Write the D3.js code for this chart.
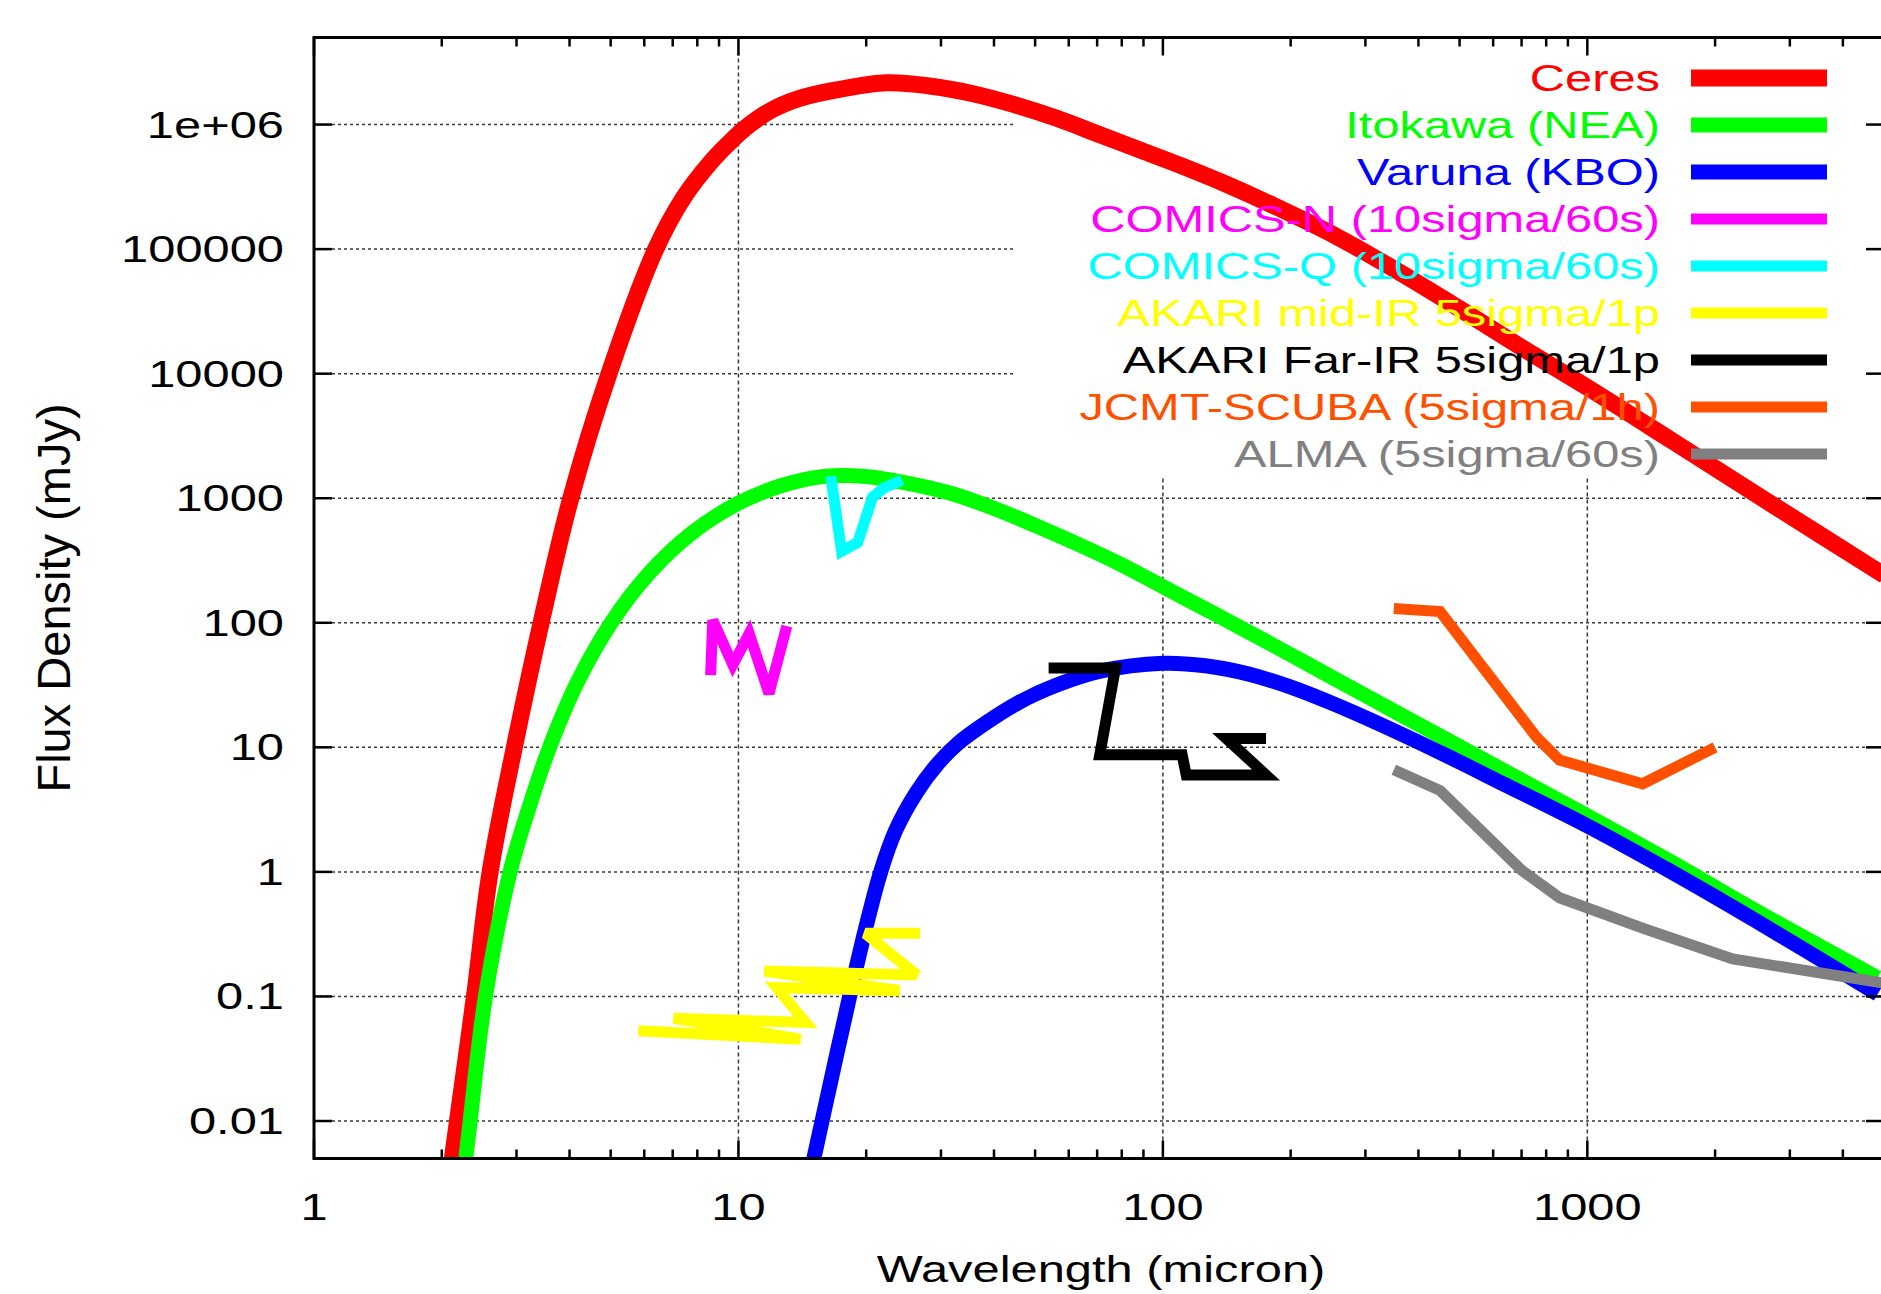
<!DOCTYPE html>
<html>
<head>
<meta charset="utf-8">
<script src="https://cdn.jsdelivr.net/npm/d3@7/dist/d3.min.js"></script>
<style>
  body { margin: 0; background: #fff; }
  text { font-family: "Liberation Sans", Arial, Helvetica, sans-serif; }
</style>
</head>
<body>
<div id="chart"></div>
<script>
// wavelength (micron), flux density (mJy)
const ceres = [
  [2.08, 0.00316], [2.178, 0.01], [2.388, 0.1], [2.60, 1], [2.965, 10], [3.428, 100],
  [4.027, 1000], [4.955, 1e4], [6.383, 1e5], [7.413, 2.57e5], [8.61, 5.01e5],
  [9.55, 7.24e5], [10.54, 9.77e5], [12.02, 1.318e6], [13.93, 1.622e6], [17.14, 1.905e6],
  [22.39, 2.163e6], [28.18, 2.042e6], [35.48, 1.778e6], [44.67, 1.445e6], [56.23, 1.122e6],
  [70.79, 8.32e5], [89.13, 6.17e5], [112.2, 4.57e5], [141.3, 3.31e5], [182.0, 2.24e5],
  [257.0, 1.259e5], [354.8, 6.76e4], [501.2, 3.31e4], [707.9, 1.585e4], [1000, 7762],
  [1585, 2884], [2754, 871], [5012, 240]
];
const itokawa = [
  [2.244, 0.00316], [2.333, 0.01], [2.535, 0.1], [2.897, 1], [3.199, 3.162], [3.589, 10],
  [4.169, 33.1], [5.012, 100], [6.166, 251], [7.762, 525], [10.0, 912], [12.59, 1259],
  [15.85, 1496], [19.95, 1496], [25.12, 1318], [31.62, 1096], [41.3, 794], [50.12, 603],
  [63.1, 427], [79.43, 295], [100, 195], [125.9, 129], [158.5, 85.1], [199.5, 55.6],
  [254.1, 35.5], [344.4, 20.2], [467.7, 11.48], [631.0, 6.61], [1000, 2.82],
  [1578, 1.2], [2489, 0.49], [4831, 0.141]
];
const varuna = [
  [14.62, 0.00316], [15.74, 0.01], [18.28, 0.1], [19.95, 0.355], [21.63, 1], [23.44, 2.14],
  [26.3, 4.37], [29.51, 7.41], [33.11, 10.96], [38.02, 15.49], [45.71, 22.9], [56.23, 31.6],
  [70.79, 40.7], [100, 47.32], [125.9, 45.19], [158.5, 38.9], [199.5, 30.55], [254.1, 22.1],
  [344.4, 13.96], [467.7, 8.51], [631.0, 5.13], [1000, 2.344], [1578, 1.0], [2489, 0.407],
  [4831, 0.1047]
];
const comicsN = [[8.6, 38], [8.7, 105], [9.7, 46], [10.6, 82], [11.8, 27], [13.0, 94]];
const comicsQ = [[16.5, 1500], [17.5, 375], [19.1, 442], [20.7, 1020], [22.0, 1210], [24.3, 1400]];
const akariMid = [
  [5.81, 0.053], [14.0, 0.0454], [7.03, 0.0668], [14.4, 0.0618], [12.3, 0.118],
  [24.0, 0.111], [11.5, 0.16], [26.3, 0.149], [19.9, 0.321], [26.8, 0.321]
];
const akariFar = [
  [53.8, 43.4], [77.3, 43.4], [71, 8.7], [111, 8.7], [113.5, 6.0], [175, 6.0],
  [141, 11.8], [175, 11.8]
];
const jcmtScuba = [[350, 130], [450, 123], [760, 12], [860, 7.9], [1350, 5.1], [2000, 10]];
const alma = [[350, 6.6], [450, 4.5], [700, 1.03], [860, 0.62], [1360, 0.35], [2200, 0.2], [5000, 0.128]];

const seriesData = [ceres, itokawa, varuna, comicsN, comicsQ, akariMid, akariFar, jcmtScuba, alma];
const seriesNames = [
  "Ceres", "Itokawa (NEA)", "Varuna (KBO)", "COMICS-N (10sigma/60s)",
  "COMICS-Q (10sigma/60s)", "AKARI mid-IR 5sigma/1p", "AKARI Far-IR 5sigma/1p",
  "JCMT-SCUBA (5sigma/1h)", "ALMA (5sigma/60s)"
];
const seriesColors = ["#ff0000", "#00ff00", "#0000ff", "#ff00ff", "#00ffff", "#ffff00", "#000000", "#ff5000", "#808080"];
const smoothSeries = [true, true, true, false, false, false, false, false, false];

const xTicks = [1, 10, 100, 1000];
const xTickLabels = ["1", "10", "100", "1000"];
const yTicks = [0.01, 0.1, 1, 10, 100, 1000, 10000, 100000, 1000000];
const yTickLabels = ["0.01", "0.1", "1", "10", "100", "1000", "10000", "100000", "1e+06"];

const width = 1881
, height = 1294
, plotLeft = 314
, plotRight = 1884
, plotTop = 37.5
, plotBottom = 1158.5
, fontSize = 37
, textStretch = 1.32
, majorTick = 18
, minorTick = 9;

const x = d3.scaleLog().domain([1, 5000]).range([plotLeft, plotRight]);
const y = d3.scaleLog().domain([0.005, 5e6]).range([plotBottom, plotTop]);

const svg = d3.select("#chart")
  .append("svg")
  .attr("width", width)
  .attr("height", height)
  .style("display", "block");

svg.append("rect")
  .attr("width", width)
  .attr("height", height)
  .style("fill", "#fff");

svg.append("clipPath")
  .attr("id", "plotClip")
  .append("rect")
  .attr("x", plotLeft)
  .attr("y", plotTop)
  .attr("width", plotRight - plotLeft)
  .attr("height", plotBottom - plotTop);

function addText(g, px, py, str, anchor, color) {
  return g.append("text")
    .attr("transform", `translate(${px},${py}) scale(${textStretch},1)`)
    .attr("text-anchor", anchor)
    .style("font-size", fontSize + "px")
    .style("fill", color)
    .text(str);
}

// grid
const grid = svg.append("g");
grid.selectAll(".hgrid")
  .data(yTicks)
  .enter().append("line")
  .attr("x1", plotLeft)
  .attr("x2", plotRight)
  .attr("y1", d => y(d))
  .attr("y2", d => y(d))
  .style("stroke", "#3a3a3a")
  .style("stroke-width", 1.5)
  .style("stroke-dasharray", "3,3");
grid.selectAll(".vgrid")
  .data(xTicks.slice(1))
  .enter().append("line")
  .attr("x1", d => x(d))
  .attr("x2", d => x(d))
  .attr("y1", plotTop)
  .attr("y2", plotBottom)
  .style("stroke", "#3a3a3a")
  .style("stroke-width", 1.5)
  .style("stroke-dasharray", "4,3");

// opaque key area
const legendLeft = 1013, legendBottom = 478;
svg.append("rect")
  .attr("x", legendLeft)
  .attr("y", plotTop)
  .attr("width", plotRight - legendLeft)
  .attr("height", legendBottom - plotTop)
  .style("fill", "#fff");

// series with key entries, drawn in plot order
const legendTextRight = 1660
, sampleX1 = 1691
, sampleX2 = 1827
, legendRow0 = 78
, legendRowStep = 47;

seriesData.forEach((data, i) => {
  const lw = i == 0 ? 17 : (i < 3 ? 15 : 11);
  const rowY = legendRow0 + i * legendRowStep;
  const line = d3.line()
    .x(d => x(d[0]))
    .y(d => y(d[1]))
    .curve(smoothSeries[i] ? d3.curveCatmullRom.alpha(0.5) : d3.curveLinear);

  const entry = svg.append("g");
  addText(entry, legendTextRight, rowY + 13, seriesNames[i], "end", seriesColors[i]);
  entry.append("line")
    .attr("x1", sampleX1)
    .attr("x2", sampleX2)
    .attr("y1", rowY)
    .attr("y2", rowY)
    .style("stroke", seriesColors[i])
    .style("stroke-width", lw);

  svg.append("path")
    .attr("clip-path", "url(#plotClip)")
    .datum(data)
    .attr("d", line)
    .style("fill", "none")
    .style("stroke", seriesColors[i])
    .style("stroke-width", lw)
    .style("stroke-linejoin", smoothSeries[i] ? "round" : "miter")
    .style("stroke-miterlimit", 3)
    .style("stroke-linecap", "butt");
});

// axes and border
const axes = svg.append("g");
axes.append("rect")
  .attr("x", plotLeft)
  .attr("y", plotTop)
  .attr("width", plotRight - plotLeft)
  .attr("height", plotBottom - plotTop)
  .style("fill", "none")
  .style("stroke", "#000")
  .style("stroke-width", 3);

var minorX = [];
xTicks.forEach(d => {
  for (var k = 2; k <= 9; k++) {
    if (d * k < 5000) minorX.push(d * k);
  }
});

[plotTop, plotBottom].forEach(edge => {
  const dir = edge == plotTop ? 1 : -1;
  axes.selectAll(null)
    .data(xTicks)
    .enter().append("line")
    .attr("x1", d => x(d)).attr("x2", d => x(d))
    .attr("y1", edge).attr("y2", edge + dir * majorTick)
    .style("stroke", "#000").style("stroke-width", 2.5);
  axes.selectAll(null)
    .data(minorX)
    .enter().append("line")
    .attr("x1", d => x(d)).attr("x2", d => x(d))
    .attr("y1", edge).attr("y2", edge + dir * minorTick)
    .style("stroke", "#000").style("stroke-width", 2.5);
});

[plotLeft, plotRight].forEach(edge => {
  const dir = edge == plotLeft ? 1 : -1;
  axes.selectAll(null)
    .data(yTicks)
    .enter().append("line")
    .attr("x1", edge).attr("x2", edge + dir * majorTick)
    .attr("y1", d => y(d)).attr("y2", d => y(d))
    .style("stroke", "#000").style("stroke-width", 2.5);
});

yTicks.forEach((d, i) => {
  addText(axes, 284, y(d) + 13, yTickLabels[i], "end", "#000");
});
xTicks.forEach((d, i) => {
  addText(axes, x(d), 1220, xTickLabels[i], "middle", "#000");
});

addText(axes, 1101, 1282, "Wavelength (micron)", "middle", "#000");
axes.append("text")
  .attr("transform", "translate(70,598) rotate(-90)")
  .attr("text-anchor", "middle")
  .style("font-size", "47px")
  .style("fill", "#000")
  .text("Flux Density (mJy)");
</script>
</body>
</html>
